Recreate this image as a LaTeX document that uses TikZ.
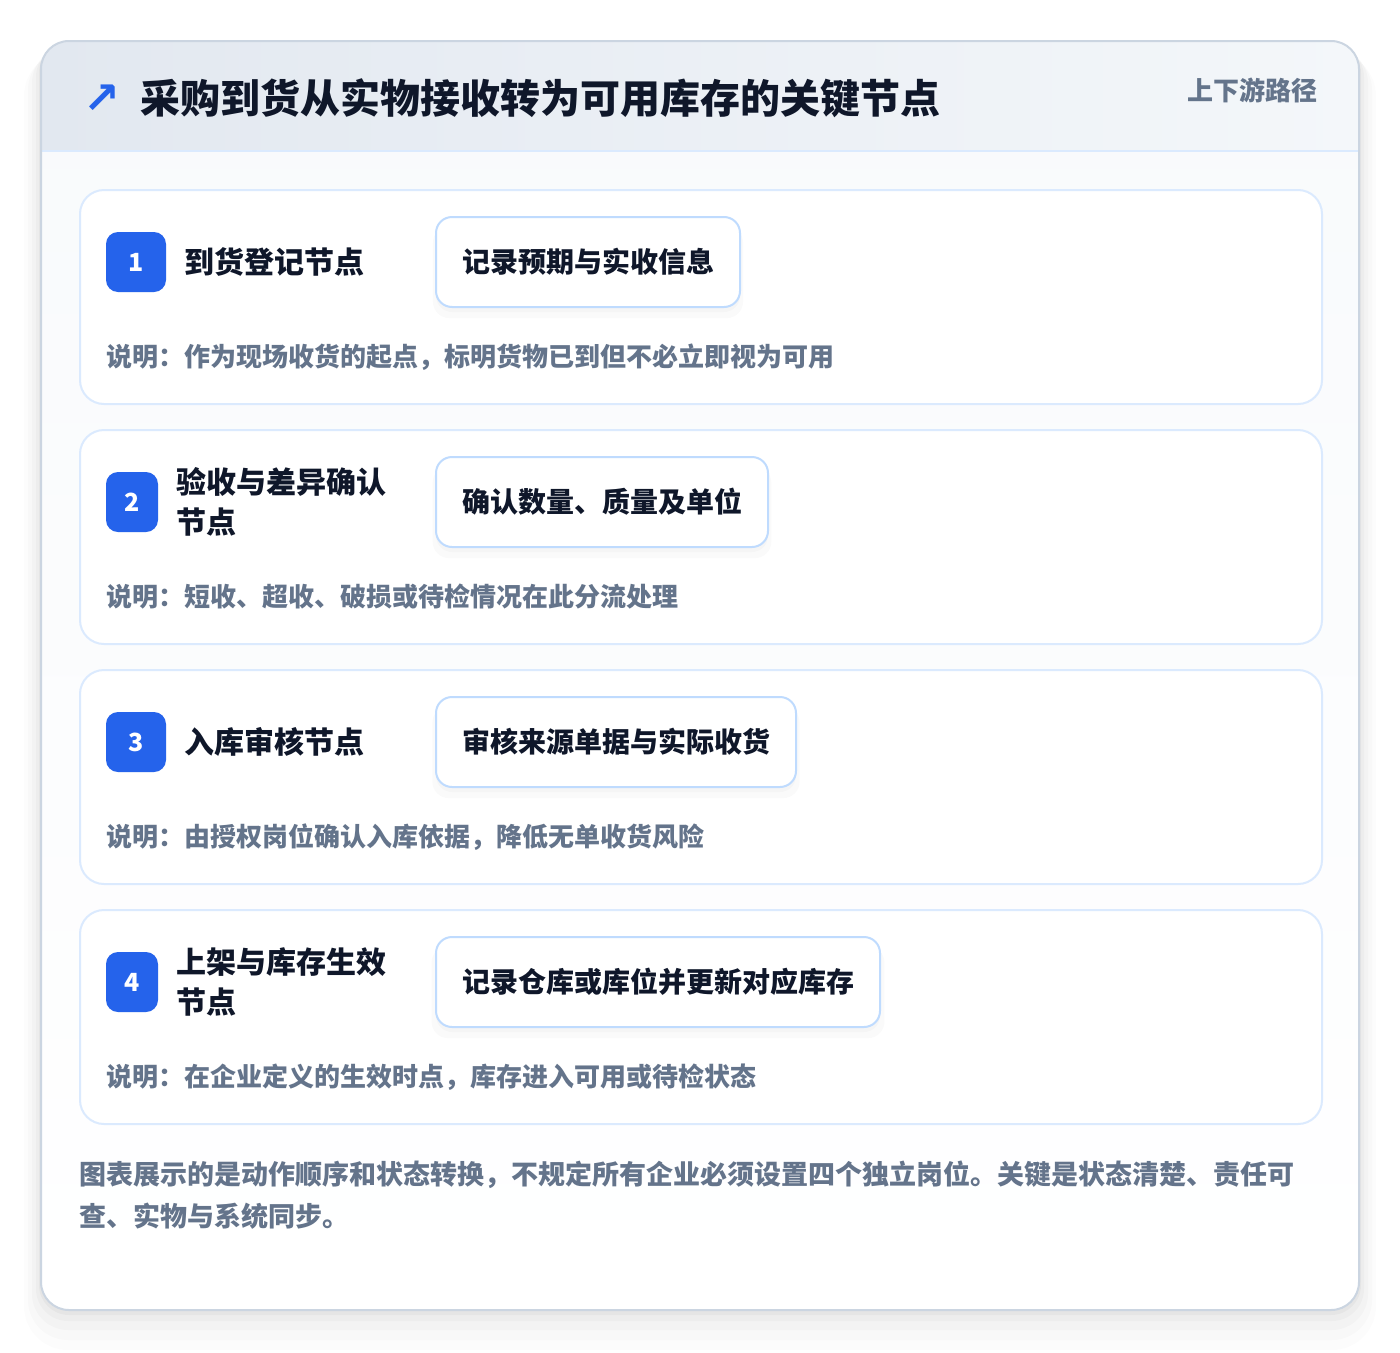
\documentclass[tikz,border=0pt]{standalone}
\usepackage{fontspec}
\setmainfont{Noto Sans CJK SC}
\newfontfamily\symfont{DejaVu Sans}
\usetikzlibrary{positioning}
\usetikzlibrary{shadows}
\definecolor{inkdark}{HTML}{0F172A}
\definecolor{inkgrey}{HTML}{64748B}
\definecolor{badgeblue}{HTML}{2563EB}
\definecolor{cardline}{HTML}{DBEAFE}
\definecolor{pillline}{HTML}{BFDBFE}
\definecolor{frameline}{HTML}{CBD5E1}
\definecolor{headleft}{HTML}{E2E8F0}
\definecolor{headright}{HTML}{F4F7FA}
\definecolor{bodytop}{HTML}{F8FAFC}
\newcommand{\fsize}[2]{\fontsize{#1}{#2}\selectfont}
\tikzset{
    card/.style={anchor=north west, draw=cardline, line width=2pt, fill=white, rounded corners=24pt, minimum width=1242pt, minimum height=214pt},
    badge/.style={fill=badgeblue, rounded corners=12pt, minimum height=60pt, inner sep=0pt, text=white, font=\fsize{25}{25}\bfseries},
    badge-wide/.style={badge, minimum width=60pt},
    badge-narrow/.style={badge, minimum width=52pt},
    stagetitle/.style={anchor=west, align=left, inner sep=0pt, text=inkdark, font=\fsize{30}{40}\bfseries},
    pill/.style={anchor=west, draw=pillline, line width=2pt, fill=white, rounded corners=16pt, minimum height=90pt, inner xsep=26pt,
        text=inkdark, font=\fsize{28}{28}\bfseries,
        drop shadow={shadow xshift=0pt, shadow yshift=-10pt, shadow scale=1.02, opacity=0.018, fill=black},
        drop shadow={shadow xshift=0pt, shadow yshift=-5pt, opacity=0.018, fill=black}},
    note/.style={anchor=west, inner sep=0pt, text=inkgrey, font=\fsize{26}{26}\bfseries}
}
\begin{document}
\begin{tikzpicture}[x=1pt, y=-1pt]
      \useasboundingbox[fill=white] (0,0) rectangle (1400,1352);

      % frame and its shadow
      \fill[black, opacity=0.012, rounded corners=44pt] (24,52) rectangle (1376,1350);
      \fill[black, opacity=0.015, rounded corners=40pt] (28,50) rectangle (1372,1340);
      \fill[black, opacity=0.02, rounded corners=36pt] (32,47) rectangle (1368,1330);
      \fill[black, opacity=0.025, rounded corners=32pt] (36,45) rectangle (1364,1321);
      \fill[black, opacity=0.03, rounded corners=30pt] (39,43) rectangle (1361,1315);
      \shade[top color=bodytop, bottom color=white, rounded corners=28pt] (41,41) rectangle (1359,1310);
      \begin{scope}
          \clip[rounded corners=28pt] (41,41) rectangle (1359,1310);
          \shade[left color=headleft, right color=headright] (41,41) rectangle (1359,151);
      \end{scope}
      \draw[cardline, line width=2pt] (41,151) -- (1359,151);
      \draw[frameline, line width=2pt, rounded corners=28pt] (41,41) rectangle (1359,1310);

      % header
      \node[text=badgeblue, font=\symfont\bfseries\fsize{44}{44}] (icon) at (102,99) {↗};
      \node[anchor=west, inner sep=0pt, text=inkdark, font=\fsize{40}{40}\bfseries] (title) at (140,98) {采购到货从实物接收转为可用库存的关键节点};
      \node[anchor=east, inner sep=0pt, text=inkgrey, font=\fsize{26}{26}\bfseries] (route) at (1318,90) {上下游路径};

      % stage 1
      \node[card] (card-1) at (79,189) {};
      \node[badge-wide] (badge-1) at (136,262) {1};
      \node[stagetitle, right=18pt of badge-1] (title-1) {到货登记节点};
      \node[pill] (pill-1) at (435,262) {记录预期与实收信息};
      \node[note] (note-1) at (106,357) {说明：作为现场收货的起点，标明货物已到但不必立即视为可用};

      % stage 2
      \node[card] (card-2) at (79,429) {};
      \node[badge-narrow] (badge-2) at (132,502) {2};
      \node[stagetitle, right=18pt of badge-2] (title-2) {验收与差异确认\\节点};
      \node[pill] (pill-2) at (435,502) {确认数量、质量及单位};
      \node[note] (note-2) at (106,597) {说明：短收、超收、破损或待检情况在此分流处理};

      % stage 3
      \node[card] (card-3) at (79,669) {};
      \node[badge-wide] (badge-3) at (136,742) {3};
      \node[stagetitle, right=18pt of badge-3] (title-3) {入库审核节点};
      \node[pill] (pill-3) at (435,742) {审核来源单据与实际收货};
      \node[note] (note-3) at (106,837) {说明：由授权岗位确认入库依据，降低无单收货风险};

      % stage 4
      \node[card] (card-4) at (79,909) {};
      \node[badge-narrow] (badge-4) at (132,982) {4};
      \node[stagetitle, right=18pt of badge-4] (title-4) {上架与库存生效\\节点};
      \node[pill] (pill-4) at (435,982) {记录仓库或库位并更新对应库存};
      \node[note] (note-4) at (106,1077) {说明：在企业定义的生效时点，库存进入可用或待检状态};

      % footer
      \node[anchor=north west, align=left, inner sep=0pt, text=inkgrey, font=\fsize{27}{42}\bfseries] (footer) at (79,1161)
          {图表展示的是动作顺序和状态转换，不规定所有企业必须设置四个独立岗位。关键是状态清楚、责任可\\查、实物与系统同步。};
\end{tikzpicture}
\end{document}
